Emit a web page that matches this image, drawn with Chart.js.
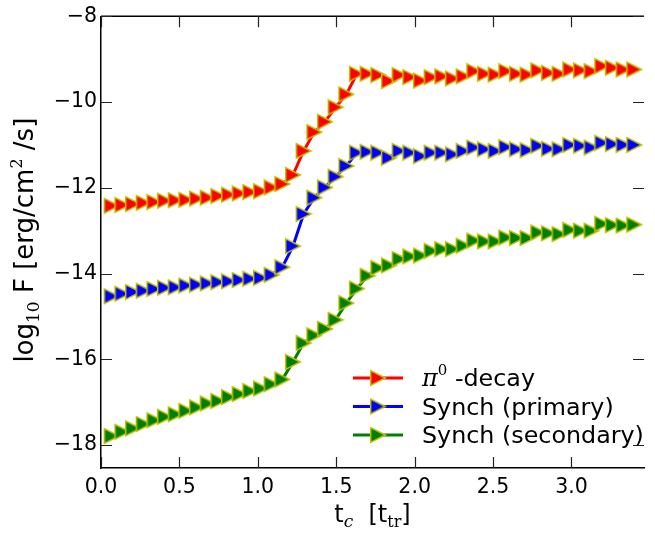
<!DOCTYPE html>
<html>
<head>
<meta charset="utf-8">
<script src="https://cdn.jsdelivr.net/npm/chart.js@4/dist/chart.umd.min.js"></script>
<style>
  html, body { margin: 0; padding: 0; background: #fff; }
  canvas { display: block; }
</style>
</head>
<body>
<canvas id="flux" width="655" height="537"></canvas>
<script>
// t_c in units of t_tr
var tValues = [
    0.068, 0.136, 0.204, 0.272, 0.34, 0.408, 0.476, 0.544, 0.612, 0.68,
    0.748, 0.816, 0.884, 0.952, 1.02, 1.088, 1.156, 1.224, 1.292, 1.36,
    1.428, 1.496, 1.564, 1.632, 1.7, 1.768, 1.836, 1.904, 1.972, 2.04,
    2.108, 2.176, 2.244, 2.312, 2.38, 2.448, 2.516, 2.584, 2.652, 2.72,
    2.788, 2.856, 2.924, 2.992, 3.06, 3.128, 3.196, 3.264, 3.332, 3.4
];

var pionDecay = [
    -12.42, -12.40, -12.38, -12.35, -12.33, -12.30, -12.29, -12.28, -12.25, -12.23,
    -12.19, -12.16, -12.13, -12.10, -12.08, -11.99, -11.91, -11.70, -11.14, -10.70,
    -10.46, -10.12, -9.82, -9.34, -9.34, -9.37, -9.51, -9.37, -9.42, -9.50,
    -9.42, -9.40, -9.45, -9.40, -9.28, -9.34, -9.36, -9.28, -9.34, -9.36,
    -9.26, -9.32, -9.34, -9.24, -9.26, -9.28, -9.16, -9.20, -9.24, -9.24
];

var synchPrimary = [
    -14.53, -14.47, -14.43, -14.40, -14.36, -14.33, -14.32, -14.28, -14.26, -14.23,
    -14.20, -14.18, -14.15, -14.12, -14.10, -14.03, -13.85, -13.36, -12.61, -12.23,
    -11.99, -11.74, -11.49, -11.18, -11.16, -11.18, -11.30, -11.14, -11.18, -11.26,
    -11.18, -11.18, -11.22, -11.14, -11.06, -11.10, -11.14, -11.05, -11.10, -11.12,
    -11.02, -11.09, -11.10, -11.00, -11.02, -11.06, -10.95, -10.98, -11.00, -11.00
];

var synchSecondary = [
    -17.79, -17.69, -17.61, -17.51, -17.42, -17.34, -17.28, -17.20, -17.12, -17.03,
    -16.97, -16.88, -16.81, -16.74, -16.68, -16.58, -16.47, -16.06, -15.62, -15.44,
    -15.29, -15.08, -14.69, -14.35, -14.05, -13.87, -13.81, -13.66, -13.60, -13.58,
    -13.47, -13.43, -13.43, -13.35, -13.23, -13.25, -13.25, -13.16, -13.17, -13.17,
    -13.04, -13.06, -13.08, -12.98, -13.00, -13.00, -12.84, -12.87, -12.88, -12.86
];

var xTicks = [0.0, 0.5, 1.0, 1.5, 2.0, 2.5, 3.0];
var yTicks = [-18, -16, -14, -12, -10, -8];

var SANS = 'DejaVu Sans';
var SERIF = 'DejaVu Serif';
var EDGE = '#bfbf00';

function makeMarker(fill) {
    var c = document.createElement('canvas');
    c.width = 18;
    c.height = 18;
    var g = c.getContext('2d');
    g.beginPath();
    g.moveTo(16.3, 9);
    g.lineTo(1.7, 1.7);
    g.lineTo(1.7, 16.3);
    g.closePath();
    g.fillStyle = fill;
    g.fill();
    g.lineWidth = 1.5;
    g.strokeStyle = EDGE;
    g.stroke();
    return c;
}

function toPoints(values) {
    return values.map(function (v, i) {
        return { x: tValues[i], y: v };
    });
}

function makeSeries(label, color, values) {
    return {
        label: label,
        data: toPoints(values),
        borderColor: color,
        backgroundColor: color,
        borderWidth: 3,
        tension: 0,
        pointStyle: makeMarker(color),
        pointRadius: 8,
        pointHoverRadius: 8,
        legendParts: null
    };
}

// draw a run of text pieces (font, vertical shift) starting at x
function drawRich(ctx, parts, x, y, align) {
    var total = 0;
    parts.forEach(function (p) {
        ctx.font = p.font;
        p.w = ctx.measureText(p.t).width;
        total += p.w;
    });
    var cx = align === 'center' ? x - total / 2 : x;
    parts.forEach(function (p) {
        ctx.font = p.font;
        ctx.fillText(p.t, cx, y + (p.dy || 0));
        cx += p.w;
    });
}

var framePlugin = {
    id: 'frame',
    afterDraw: function (chart) {
        var ctx = chart.ctx;
        var a = chart.chartArea;
        var xs = chart.scales.x;
        var ys = chart.scales.y;
        var len = 11;
        ctx.save();
        ctx.strokeStyle = '#000';
        ctx.lineWidth = 1.5;
        ctx.beginPath();
        ctx.moveTo(a.left, a.top);
        ctx.lineTo(a.right, a.top);
        ctx.stroke();
        ctx.lineWidth = 1.2;
        ctx.strokeStyle = '#222';
        xTicks.forEach(function (v) {
            var px = Math.round(xs.getPixelForValue(v)) + 0.5;
            ctx.beginPath();
            ctx.moveTo(px, a.bottom);
            ctx.lineTo(px, a.bottom - len);
            ctx.moveTo(px, a.top);
            ctx.lineTo(px, a.top + len);
            ctx.stroke();
        });
        yTicks.forEach(function (v) {
            var py = Math.round(ys.getPixelForValue(v)) + 0.5;
            ctx.beginPath();
            ctx.moveTo(a.left, py);
            ctx.lineTo(a.left + len, py);
            ctx.moveTo(a.right, py);
            ctx.lineTo(a.right - len, py);
            ctx.stroke();
        });

        // axis titles
        ctx.fillStyle = '#000';
        ctx.textBaseline = 'alphabetic';
        drawRich(ctx, [
            { t: 't', font: '24px ' + SANS },
            { t: 'c', font: 'italic 17px ' + SERIF, dy: 5 },
            { t: '  [t', font: '24px ' + SANS },
            { t: 'tr', font: '16px ' + SERIF, dy: 5 },
            { t: ']', font: '24px ' + SANS }
        ], (a.left + a.right) / 2, 522, 'center');

        ctx.save();
        ctx.translate(33, (a.top + a.bottom) / 2 - 2);
        ctx.rotate(-Math.PI / 2);
        drawRich(ctx, [
            { t: 'log', font: '26px ' + SANS },
            { t: '10', font: '17px ' + SERIF, dy: 6 },
            { t: ' F [erg/cm', font: '26px ' + SANS },
            { t: '2', font: '16px ' + SERIF, dy: -11 },
            { t: ' /s]', font: '26px ' + SANS }
        ], 0, 0, 'center');
        ctx.restore();

        // legend
        var rows = [378, 406.5, 435];
        chart.data.datasets.forEach(function (ds, i) {
            var y = rows[i];
            ctx.strokeStyle = ds.borderColor;
            ctx.lineWidth = 3;
            ctx.beginPath();
            ctx.moveTo(353, y);
            ctx.lineTo(403, y);
            ctx.stroke();
            ctx.drawImage(ds.pointStyle, 378 - 9, y - 9);
            ctx.fillStyle = '#000';
            drawRich(ctx, ds.legendParts, 422, y + 8, 'left');
        });
        ctx.restore();
    }
};

var datasets = [
    makeSeries('\u03c0\u2070 -decay', '#ff0000', pionDecay),
    makeSeries('Synch (primary)', '#0000ff', synchPrimary),
    makeSeries('Synch (secondary)', '#008000', synchSecondary)
];
datasets[0].legendParts = [
    { t: '\u03c0', font: 'italic 24px ' + SERIF },
    { t: '0', font: '15px ' + SERIF, dy: -11 },
    { t: ' -decay', font: '23.8px ' + SANS }
];
datasets[1].legendParts = [{ t: 'Synch (primary)', font: '23.8px ' + SANS }];
datasets[2].legendParts = [{ t: 'Synch (secondary)', font: '23.8px ' + SANS }];

var ctx = document.getElementById('flux').getContext('2d');
var chart = new Chart(ctx, {
    type: 'line',
    data: { datasets: datasets },
    plugins: [framePlugin],
    options: {
        responsive: false,
        animation: false,
        devicePixelRatio: 1,
        layout: { padding: { top: 15, left: 0, right: 0, bottom: 0 } },
        plugins: {
            legend: { display: false },
            tooltip: { enabled: false }
        },
        scales: {
            x: {
                type: 'linear',
                min: 0,
                max: 3.4625,
                afterBuildTicks: function (scale) {
                    scale.ticks = xTicks.map(function (v) { return { value: v }; });
                },
                afterFit: function (scale) { scale.height = 69; },
                grid: { drawOnChartArea: false, drawTicks: false },
                border: { display: true, color: '#000', width: 1.5 },
                ticks: {
                    color: '#000',
                    padding: 7,
                    maxRotation: 0,
                    font: { family: SANS, size: 20.5 },
                    callback: function (v) { return v.toFixed(1); }
                }
            },
            y: {
                type: 'linear',
                min: -18.535,
                max: -8,
                afterBuildTicks: function (scale) {
                    scale.ticks = yTicks.map(function (v) { return { value: v }; });
                },
                afterFit: function (scale) { scale.width = 101; },
                grid: { drawOnChartArea: false, drawTicks: false },
                border: { display: true, color: '#000', width: 1.5 },
                ticks: {
                    color: '#000',
                    padding: 4,
                    font: { family: SANS, size: 20.5 },
                    callback: function (v) {
                        return (v < 0 ? '\u2212' : '') + Math.abs(v);
                    }
                }
            }
        }
    }
});
</script>
</body>
</html>
